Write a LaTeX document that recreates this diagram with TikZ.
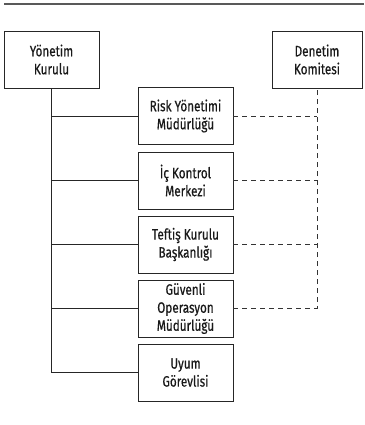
\documentclass[tikz,border=0pt]{standalone}
\usepackage{fontspec}
\setmainfont{Fira Sans}[FakeStretch=0.78,FakeBold=0.6]
\begin{document}
\begin{tikzpicture}[x=1pt,y=-1pt,
  box/.style={draw=black!85,line width=0.9pt,minimum width=95pt,minimum height=57pt,inner sep=0pt,align=center,font=\fontsize{15}{18}\selectfont,text=black!90},
  solidline/.style={draw=black!85,line width=0.9pt},
  dashline/.style={draw=black!80,line width=0.9pt,dash pattern=on 5pt off 4pt}]
\useasboundingbox (0,0) rectangle (364,425);
\draw[draw=black!65,line width=1.3pt] (4,4) -- (364,4);
\node[box] (yk) at (51.5,59.5) {Yönetim\\Kurulu};
\node[box,minimum width=90pt] (dk) at (317,59.5) {Denetim\\Komitesi};
\node[box] (rm) at (185.5,116) {Risk Yönetimi\\Müdürlüğü};
\node[box] (ik) at (185.5,180.5) {İç Kontrol\\Merkezi};
\node[box] (tk) at (185.5,244.5) {Teftiş Kurulu\\Başkanlığı};
\node[box] (go) at (185.5,308.5) {Güvenli\\Operasyon\\Müdürlüğü};
\node[box] (ug) at (185.5,372.5) {Uyum\\Görevlisi};
\coordinate (tb) at (yk.south |- ug.west);
\draw[solidline] (yk.south) -- (tb);
\foreach \n in {rm,ik,tk,go,ug} \draw[solidline] (yk.south |- \n.west) -- (\n.west);
\coordinate (dc) at (dk.south |- go.east);
\draw[dashline] (go.east) -- (dc) -- (dk.south);
\foreach \n in {rm,ik,tk} \draw[dashline] (\n.east) -- (dk.south |- \n.east);
\end{tikzpicture}
\end{document}
